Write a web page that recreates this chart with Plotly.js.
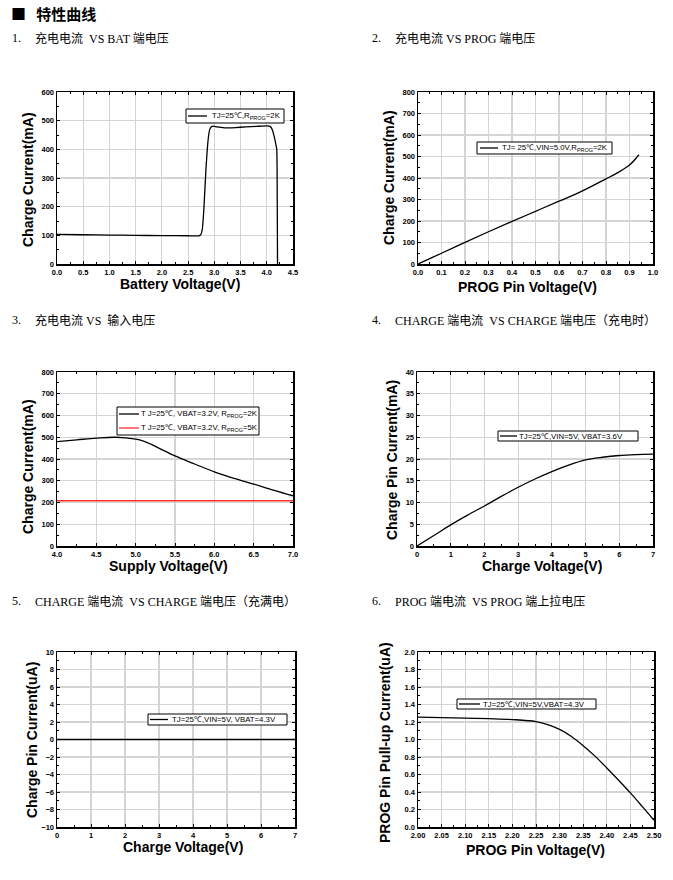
<!DOCTYPE html>
<html>
<head>
<meta charset="utf-8">
<script src="https://cdn.plot.ly/plotly-3.0.1.min.js"></script>
<style>html,body{margin:0;padding:0;background:#fff;}#chart{width:673px;height:880px;}</style>
</head>
<body>
<div id="chart"></div>
<script>
// ---------- DATA ----------
// 1. Charge current vs battery voltage
const batV = [0, 0.5, 1.0, 1.5, 2.0, 2.5, 2.7, 2.74, 2.77, 2.8, 2.84, 2.88, 2.91, 2.94, 2.98, 3.05, 3.2, 3.4, 3.6, 3.8, 4.0, 4.05, 4.08, 4.11, 4.14, 4.17, 4.19, 4.2, 4.205];
const batI = [103, 102, 101, 100, 99, 98.5, 98.5, 102, 120, 190, 330, 430, 468, 478, 481, 478, 475, 476, 478, 480, 482, 481, 477, 466, 446, 420, 400, 200, 0];
const batLegend = 'TJ=25℃,R<sub>PROG</sub>=2K';

// 2. Charge current vs PROG voltage
const progV = [0, 0.05, 0.1, 0.2, 0.3, 0.4, 0.5, 0.6, 0.7, 0.8, 0.85, 0.9, 0.94];
const progI = [0, 25, 50, 101, 150, 198, 245, 292, 340, 396, 425, 460, 508];
const progLegend = 'TJ= 25℃,VIN=5.0V,R<sub>PROG</sub>=2K';

// 3. Charge current vs supply voltage
const supV = [4.0, 4.25, 4.5, 4.75, 5.0, 5.1, 5.2, 5.3, 5.5, 5.75, 6.0, 6.25, 6.5, 6.75, 7.0];
const supI2K = [480, 488, 496, 500, 491, 482, 467, 449, 414, 377, 341, 311, 285, 257, 231];
const supI5K = [208, 208, 208, 208, 208, 208, 208, 208, 208, 208, 208, 208, 208, 208, 208];
const supLegend2K = 'T J=25℃, VBAT=3.2V, R<sub>PROG</sub>=2K';
const supLegend5K = 'T J=25℃, VBAT=3.2V, R<sub>PROG</sub>=5K';

// 4. CHARGE pin current vs CHARGE voltage (charging)
const chgV = [0, 0.5, 1, 1.5, 2, 2.5, 3, 3.5, 4, 4.5, 5, 5.5, 6, 6.5, 7];
const chgI = [0, 2.4, 4.85, 7.1, 9.2, 11.4, 13.5, 15.4, 17.1, 18.6, 19.8, 20.4, 20.8, 21.0, 21.1];
const chgLegend = 'TJ=25℃,VIN=5V, VBAT=3.6V';

// 5. CHARGE pin current vs CHARGE voltage (full)
const fullV = [0, 1, 2, 3, 4, 5, 6, 7];
const fullI = [0, 0, 0, 0, 0, 0, 0, 0];
const fullLegend = 'TJ=25℃,VIN=5V, VBAT=4.3V';

// 6. PROG pull-up current vs PROG voltage
const puV = [2.00, 2.05, 2.10, 2.15, 2.20, 2.25, 2.275, 2.30, 2.325, 2.35, 2.375, 2.40, 2.425, 2.45, 2.475, 2.50];
const puI = [1.255, 1.25, 1.245, 1.238, 1.228, 1.205, 1.17, 1.115, 1.035, 0.93, 0.81, 0.675, 0.535, 0.39, 0.235, 0.076];
const puLegend = 'TJ=25℃,VIN=5V,VBAT=4.3V';

const headingText = '■\u00a0\u00a0\u00a0特性曲线';
const subNums = ['1.', '2.', '3.', '4.', '5.', '6.'];
const subTitles = [
  '充电电流\u00a0\u00a0VS BAT 端电压',
  '充电电流 VS PROG 端电压',
  '充电电流 VS\u00a0\u00a0输入电压',
  'CHARGE 端电流\u00a0\u00a0VS CHARGE 端电压（充电时）',
  'CHARGE 端电流\u00a0\u00a0VS CHARGE 端电压（充满电）',
  'PROG 端电流\u00a0\u00a0VS PROG 端上拉电压'
];
const xTitles = ['Battery Voltage(V)', 'PROG Pin Voltage(V)', 'Supply Voltage(V)', 'Charge Voltage(V)', 'Charge Voltage(V)', 'PROG Pin Voltage(V)'];
const yTitles = ['Charge Current(mA)', 'Charge Current(mA)', 'Charge Current(mA)', 'Charge Pin Current(mA)', 'Charge Pin Current(uA)', 'PROG Pin Pull-up Current(uA)'];

// ---------- LAYOUT HELPERS ----------
const W = 673, H = 880;
const px = v => v / W;
const py = v => 1 - v / H;

// plot boxes [left, right, top, bottom] in px
const boxes = [
  [57, 293, 92, 264],
  [418, 653, 92, 264],
  [57, 293, 372, 546],
  [417, 653, 372, 546],
  [57, 295, 652, 827],
  [418, 654, 652, 827]
];
const xr = [[0, 4.5], [0, 1], [4, 7], [0, 7], [0, 7], [2, 2.5]];
const yr = [[0, 600], [0, 800], [0, 800], [0, 40], [-10, 10], [0, 2]];
const xd = [0.5, 0.1, 0.5, 1, 1, 0.05];
const yd = [100, 100, 100, 5, 2, 0.2];
const xfmt = ['.1f', '.1f', '.1f', 'd', 'd', '.2f'];
const yfmt = ['d', 'd', 'd', 'd', 'd', '.1f'];

const tickFont = {family: 'Arial, Liberation Sans, sans-serif', size: 7.5, color: '#000', weight: 'bold'};
const titleFont = {family: 'Arial, Liberation Sans, sans-serif', size: 14, color: '#000', weight: 'bold'};
const legFont = {family: 'Arial, Liberation Sans, sans-serif', size: 7.8, color: '#000'};

function axis(range, dtick, fmt, dom) {
  return {
    domain: dom, range: range, dtick: dtick, tick0: range[0], tickformat: fmt,
    showline: true, linecolor: '#000', linewidth: 1.5, mirror: 'allticks',
    ticks: 'inside', ticklen: 3, tickwidth: 1, tickcolor: '#000',
    minor: {dtick: dtick / 2, ticks: 'inside', ticklen: 2, tickcolor: '#000', showgrid: false},
    showgrid: true, gridcolor: '#d4d4d4', gridwidth: 1.2,
    zeroline: false, tickfont: tickFont, fixedrange: true, automargin: false
  };
}

const layout = {
  width: W, height: H, margin: {l: 0, r: 0, t: 0, b: 0},
  paper_bgcolor: '#fff', plot_bgcolor: '#fff', showlegend: false,
  annotations: [], shapes: [], font: {family: 'Arial, Liberation Sans, sans-serif'}
};

const titlePos = {
  x: [[180, 284], [527, 287], [168, 566], [542, 566], [183, 847], [535, 850]],
  y: [[28, 180], [389, 177], [28, 467], [392, 460], [32, 740], [385, 743]]
};

for (let i = 0; i < 6; i++) {
  const b = boxes[i];
  const s = i === 0 ? '' : String(i + 1);
  layout['xaxis' + s] = Object.assign(axis(xr[i], xd[i], xfmt[i], [px(b[0]), px(b[1])]), {anchor: 'y' + s});
  layout['yaxis' + s] = Object.assign(axis(yr[i], yd[i], yfmt[i], [py(b[3]), py(b[2])]), {anchor: 'x' + s});
  layout.annotations.push({
    xref: 'paper', yref: 'paper', x: px(titlePos.x[i][0]), y: py(titlePos.x[i][1]),
    text: xTitles[i], showarrow: false, xanchor: 'center', yanchor: 'middle', font: titleFont
  });
  layout.annotations.push({
    xref: 'paper', yref: 'paper', x: px(titlePos.y[i][0]), y: py(titlePos.y[i][1]),
    text: yTitles[i], textangle: -90, showarrow: false, xanchor: 'center', yanchor: 'middle', font: titleFont
  });
}

// legend boxes: [left, right, top, bottom, sampleStart, sampleEnd, textStart]
const legendBoxes = [
  [186, 284, 109, 123, 188, 207, 210],
  [477, 612, 142, 154, 480, 498, 500],
  [117, 259, 407, 435, 119, 139, 139],
  [498, 638, 431, 441, 500, 517, 517],
  [148, 287, 714, 725, 150, 168, 170],
  [457, 596, 699, 709, 459, 480, 481]
];
const legendItems = [
  [[batLegend, '#000']],
  [[progLegend, '#000']],
  [[supLegend2K, '#000'], [supLegend5K, '#ff2a2a']],
  [[chgLegend, '#000']],
  [[fullLegend, '#000']],
  [[puLegend, '#000']]
];
for (let i = 0; i < 6; i++) {
  const L = legendBoxes[i];
  layout.shapes.push({
    type: 'rect', xref: 'paper', yref: 'paper', layer: 'above',
    x0: px(L[0]), x1: px(L[1]), y0: py(L[3]), y1: py(L[2]),
    fillcolor: '#fff', line: {color: '#000', width: 1}
  });
  const n = legendItems[i].length;
  const rowH = (L[3] - L[2]) / n;
  legendItems[i].forEach((it, k) => {
    const cy = L[2] + rowH * (k + 0.5);
    layout.shapes.push({
      type: 'line', xref: 'paper', yref: 'paper', layer: 'above',
      x0: px(L[4]), x1: px(L[5]), y0: py(cy), y1: py(cy),
      line: {color: it[1], width: 1.3}
    });
    layout.annotations.push({
      xref: 'paper', yref: 'paper', x: px(L[6]), y: py(cy), xanchor: 'left', yanchor: 'middle',
      text: it[0], showarrow: false, font: legFont
    });
  });
}

// headings
layout.annotations.push({
  xref: 'paper', yref: 'paper', x: px(9), y: py(14), xanchor: 'left', yanchor: 'middle',
  text: headingText, showarrow: false,
  font: {family: 'Noto Sans CJK SC, sans-serif', size: 15, color: '#000', weight: 'bold'}
});
const subFont = {family: 'Liberation Serif, Noto Sans CJK SC, serif', size: 12, color: '#000'};
const subPos = [[10, 38], [370, 38], [10, 320], [370, 320], [10, 601], [370, 601]];
for (let i = 0; i < 6; i++) {
  layout.annotations.push({
    xref: 'paper', yref: 'paper', x: px(subPos[i][0]), y: py(subPos[i][1]), xanchor: 'left', yanchor: 'middle',
    text: subNums[i], showarrow: false, font: subFont
  });
  layout.annotations.push({
    xref: 'paper', yref: 'paper', x: px(subPos[i][0] + 23), y: py(subPos[i][1]), xanchor: 'left', yanchor: 'middle',
    text: subTitles[i], showarrow: false, font: subFont
  });
}

function line(x, y, name, ax, color, smooth) {
  return {
    x: x, y: y, name: name, type: 'scatter', mode: 'lines',
    xaxis: 'x' + ax, yaxis: 'y' + ax, showlegend: false,
    line: {color: color || '#000', width: 1.3, shape: 'spline', smoothing: smooth === undefined ? 1 : smooth},
    hoverinfo: 'skip'
  };
}

const data = [
  line(batV, batI, batLegend, '', '#000', 0.5),
  line(progV, progI, progLegend, '2'),
  line(supV, supI2K, supLegend2K, '3'),
  line(supV, supI5K, supLegend5K, '3', '#ff2a2a'),
  line(chgV, chgI, chgLegend, '4'),
  line(fullV, fullI, fullLegend, '5'),
  line(puV, puI, puLegend, '6')
];

Plotly.newPlot('chart', data, layout, {displayModeBar: false, staticPlot: true});
</script>
</body>
</html>
